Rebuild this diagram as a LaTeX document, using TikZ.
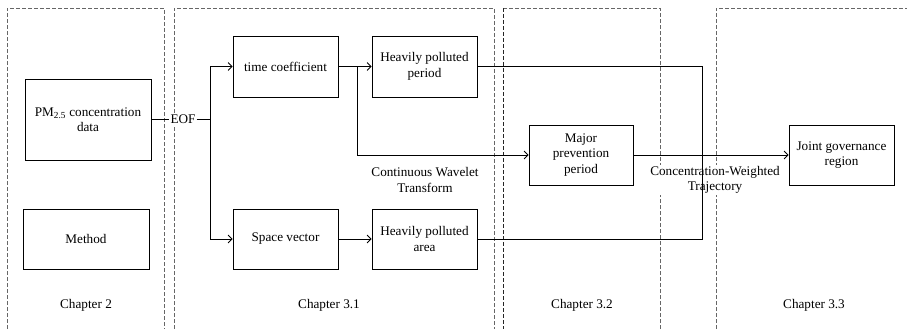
\documentclass[tikz,border=0pt]{standalone}
\usepackage{fontspec}
\setmainfont{Liberation Serif}
\usetikzlibrary{arrows.meta}
\begin{document}
\begin{tikzpicture}[x=1pt,y=-1pt,
  every node/.style={font=\fontsize{13.2}{15.5}\selectfont},
  blk/.style={draw, line width=0.8pt, align=center, inner sep=1pt, minimum width=105pt, minimum height=61pt},
  chap/.style={dash pattern=on 4pt off 2pt, draw=black!60, line width=0.9pt},
  lbl/.style={fill=white, inner sep=1pt, align=center},
  conn/.style={line width=0.8pt},
  arr/.style={conn, -{Straight Barb[length=4pt,width=8pt]}}]
\useasboundingbox (0,0) rectangle (907,329);
% chapter frames
\draw[chap] (7,329) -- (7,8) -- (164,8) -- (164,329);
\draw[chap] (174,329) -- (174,8) -- (494,8) -- (494,329);
\draw[chap] (660,329) -- (660,8) -- (503,8);
\draw[chap, draw=black!85] (503,8) -- (503,329);
\draw[chap] (716,329) -- (716,8) -- (907,8);
% nodes
\node[blk, minimum width=126pt, minimum height=81pt] (pm) at (88,119.5) {PM\textsubscript{2.5} concentration\\data};
\node[blk, minimum width=126pt, minimum height=60pt] (method) at (86,239) {Method};
\node[blk] (timec) at (285.5,66.5) {time coefficient};
\node[blk] (hpp) at (424.5,66.5) {Heavily polluted\\period};
\node[blk, minimum height=60pt] (space) at (285.5,239) {Space vector};
\node[blk, minimum height=60pt] (hpa) at (424.5,239) {Heavily polluted\\area};
\node[blk, minimum width=104pt, minimum height=60pt] (major) at (581,155) {Major\\prevention\\period};
\node[blk, minimum height=60pt] (joint) at (841.5,155) {Joint governance\\region};
% labels
\node[lbl] (eof) at (183,119.5) {EOF};
\node[lbl] (cwt) at (425,180) {Continuous Wavelet\\Transform};
\node[lbl] (cwtr) at (715,180) {Concentration-Weighted\\Trajectory};
\node (c2) at (86,305) {Chapter 2};
\node (c31) at (329,305) {Chapter 3.1};
\node (c32) at (582,305) {Chapter 3.2};
\node (c33) at (814,305) {Chapter 3.3};
% coordinates
\coordinate (j) at (210,119.5);
\coordinate (b) at (357,66.5);
\coordinate (r1) at (702,66.5);
\coordinate (r2) at (702,239);
% connectors
\draw[conn] (pm.east) -- (eof.west);
\draw[conn] (eof.east) -- (j);
\draw[arr] (j) |- (timec.west);
\draw[arr] (j) |- (space.west);
\draw[arr] (timec.east) -- (hpp.west);
\draw[arr] (space.east) -- (hpa.west);
\draw[arr] (b) |- (major.west);
\draw[conn] (hpp.east) -- (r1) -- (r2) -- (hpa.east);
\draw[arr] (major.east) -- (joint.west);
\end{tikzpicture}
\end{document}
